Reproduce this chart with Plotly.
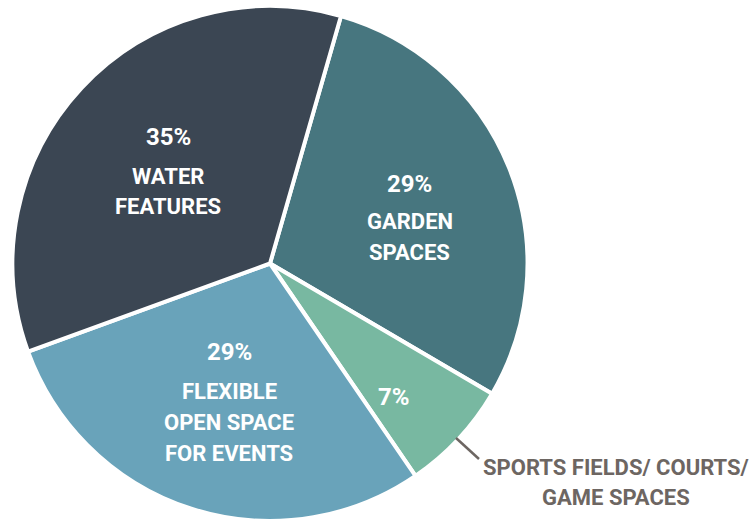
import plotly.graph_objects as go

# slices, clockwise from the top-right boundary
labels = ['Garden Spaces', 'Sports Fields/ Courts/ Game Spaces',
          'Flexible Open Space for Events', 'Water Features']
values = [29, 7, 29, 35]
colors = ['#47767f', '#78b8a1', '#69a3ba', '#3b4653']

# label lines shown inside the slices
label_lines = {
    'Water Features': ['WATER', 'FEATURES'],
    'Garden Spaces': ['GARDEN', 'SPACES'],
    'Flexible Open Space for Events': ['FLEXIBLE', 'OPEN SPACE', 'FOR EVENTS'],
}
outside_lines = ['SPORTS FIELDS/ COURTS/', 'GAME SPACES']

W, H = 753, 521


def px(x, y):
    return x / W, 1 - y / H


fig = go.Figure(go.Pie(
    labels=labels,
    values=values,
    sort=False,
    direction='clockwise',
    rotation=16,
    marker=dict(colors=colors, line=dict(color='white', width=4)),
    textinfo='none',
    hoverinfo='label+percent',
    domain=dict(x=[12 / W, 528 / W], y=[0, 1 - 6 / H]),
    showlegend=False,
))

font_w = dict(family='Roboto', size=22, color='white', weight=700)
font_p = dict(family='Roboto', size=24, color='white', weight=700)
font_g = dict(family='Roboto', size=22, color='#6d6662', weight=700)

# (pct x, pct y, first line y, line step) in pixels
spots = {
    'Water Features': (168, 137, 176, 30),
    'Garden Spaces': (410, 184, 221, 31),
    'Flexible Open Space for Events': (229, 352, 391, 31),
}

annotations = []
for lab, v in zip(labels, values):
    if lab in spots:
        x0, yp, y1, step = spots[lab]
        ax, ay = px(x0, yp)
        annotations.append(dict(x=ax, y=ay, text=f'{v}%', font=font_p))
        for i, line in enumerate(label_lines[lab]):
            ax, ay = px(x0, y1 + i * step)
            annotations.append(dict(x=ax, y=ay, text=line, font=font_w))
    else:
        ax, ay = px(394, 397)
        annotations.append(dict(x=ax, y=ay, text=f'{v}%', font=font_p))
        for i, line in enumerate(outside_lines):
            ax, ay = px(616, 467 + i * 30)
            annotations.append(dict(x=ax, y=ay, text=line, font=font_g))

for a in annotations:
    a.update(xref='paper', yref='paper', showarrow=False,
             xanchor='center', yanchor='middle')

x1, y1 = px(456, 438)
x2, y2 = px(479, 459)
fig.add_shape(type='line', xref='paper', yref='paper',
              x0=x1, y0=y1, x1=x2, y1=y2,
              line=dict(color='#6d6662', width=2.5))

fig.update_layout(
    width=W, height=H,
    margin=dict(l=0, r=0, t=0, b=0),
    paper_bgcolor='white',
    plot_bgcolor='white',
    annotations=annotations,
)

# page body has a default 8px margin; drop it so the figure fills the window
fig.write_html('out.html',
               config={'displayModeBar': False},
               post_script="document.body.style.margin='0';"
                           "document.body.style.overflow='hidden';")
